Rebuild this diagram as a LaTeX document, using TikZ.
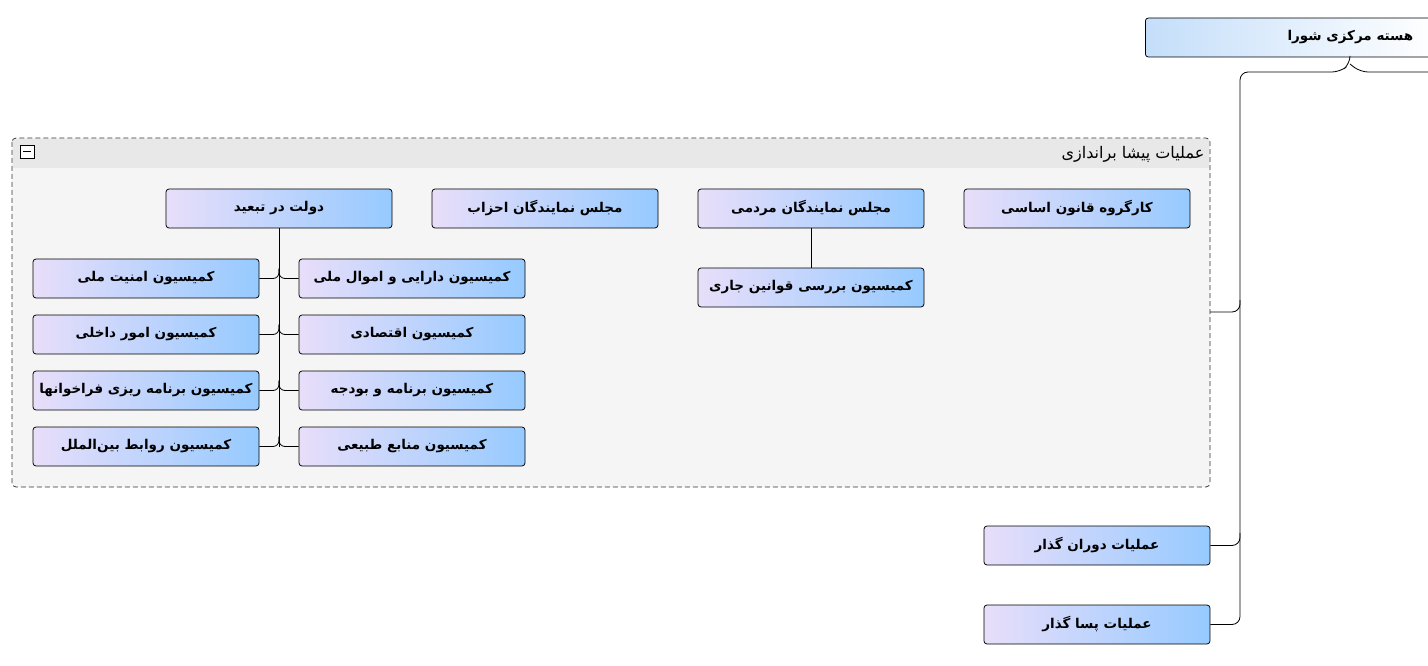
\documentclass[tikz,border=0pt]{standalone}
\usepackage{fontspec}
\newfontfamily\fa[Script=Arabic]{DejaVu Sans}
\TeXXeTstate=1
\newcommand{\fatxt}[1]{{\fa\beginR #1\endR}}
\definecolor{boxL}{RGB}{232,222,250}
\definecolor{boxR}{RGB}{150,202,255}
\definecolor{topL}{RGB}{196,222,250}
\usetikzlibrary{positioning}
\tikzset{every picture/.style={line width=0.75pt},
  unit/.style={draw,rounded corners=3pt,left color=boxL,right color=boxR,
    minimum width=226,minimum height=39,inner sep=0pt,
    font=\fontsize{13.5}{15}\selectfont\bfseries},
  link/.style={draw,line width=0.8pt,rounded corners=8pt}}
\begin{document}
\begin{tikzpicture}[x=1pt,y=1pt,yscale=-1]
\useasboundingbox (0,0) rectangle (1428,666);

% group
\fill [rounded corners=4pt,black!4] (12,138) rectangle (1210,487);
\fill [black!9] (13,139) rectangle (1209,168);
\draw [black!80,dash pattern=on 5pt off 3pt,rounded corners=4pt] (12,138) rectangle (1210,487);
\draw [fill=white] (20,145) rectangle (34,158);
\draw (23,151.5) -- (31,151.5);
\node [anchor=east,font=\fontsize{16}{18}\selectfont] (grp) at (1208,154) {\fatxt{عملیات پیشا براندازی}};
\coordinate (grpR) at (1210,312);

% top node
\node [unit,left color=topL,right color=white,minimum width=290,anchor=west] (core) at (1145,37.5) {};
\node [anchor=east,font=\fontsize{13.5}{15}\selectfont\bfseries] at (1417,37.5) {\fatxt{هسته مرکزی شورا}};

% Text Node
\node [unit] (kargoruh) at (1077,208.5) {\fatxt{کارگروه قانون اساسی}};
\node [unit] (majlesM) at (811,208.5) {\fatxt{مجلس نمایندگان مردمی}};
\node [unit] (majlesA) at (545,208.5) {\fatxt{مجلس نمایندگان احزاب}};
\node [unit] (dolat) at (279,208.5) {\fatxt{دولت در تبعید}};
\node [unit] (qavanin) at (811,287.5) {\fatxt{کمیسیون بررسی قوانین جاری}};

\node [unit] (darai) at (412,278.5) {\fatxt{کمیسیون دارایی و اموال ملی}};
\node [unit] (eqtesad) at (412,334.5) {\fatxt{کمیسیون اقتصادی}};
\node [unit] (budje) at (412,390.5) {\fatxt{کمیسیون برنامه و بودجه}};
\node [unit] (manabe) at (412,446.5) {\fatxt{کمیسیون منابع طبیعی}};
\node [unit] (amniat) at (146,278.5) {\fatxt{کمیسیون امنیت ملی}};
\node [unit] (omur) at (146,334.5) {\fatxt{کمیسیون امور داخلی}};
\node [unit] (farakhan) at (146,390.5) {\fatxt{کمیسیون برنامه ریزی فراخوانها}};
\node [unit] (ravabet) at (146,446.5) {\fatxt{کمیسیون روابط بین‌الملل}};

\node [unit] (gozar) at (1097,545.5) {\fatxt{عملیات دوران گذار}};
\node [unit] (pasa) at (1097,624.5) {\fatxt{عملیات پسا گذار}};

% Connection
\draw (majlesM.south) -- (qavanin.north);
\draw [link] (dolat.south) -- (279,446.5);
\foreach \n in {darai,eqtesad,budje,manabe}
  \draw [link,rounded corners=6pt] (279,0 |- \n.west) ++(0,-10) -- ++(0,10) -- (\n.west);
\foreach \n in {amniat,omur,farakhan,ravabet}
  \draw [link,rounded corners=6pt] (279,0 |- \n.east) ++(0,-10) -- ++(0,10) -- (\n.east);

% Connection
\draw [link] (core.south -| 1350,0) -- (1350,64) -- (1340,72) -- (1240,72) -- (1240,624.5) -- (pasa.east);
\draw [link] (1350,64) -- (1360,72) -- (1428,72);
\draw [link] (1240,300) -- (1240,312) -- (grpR);
\draw [link] (1240,533) -- (1240,545.5) -- (gozar.east);
\end{tikzpicture}
\end{document}
